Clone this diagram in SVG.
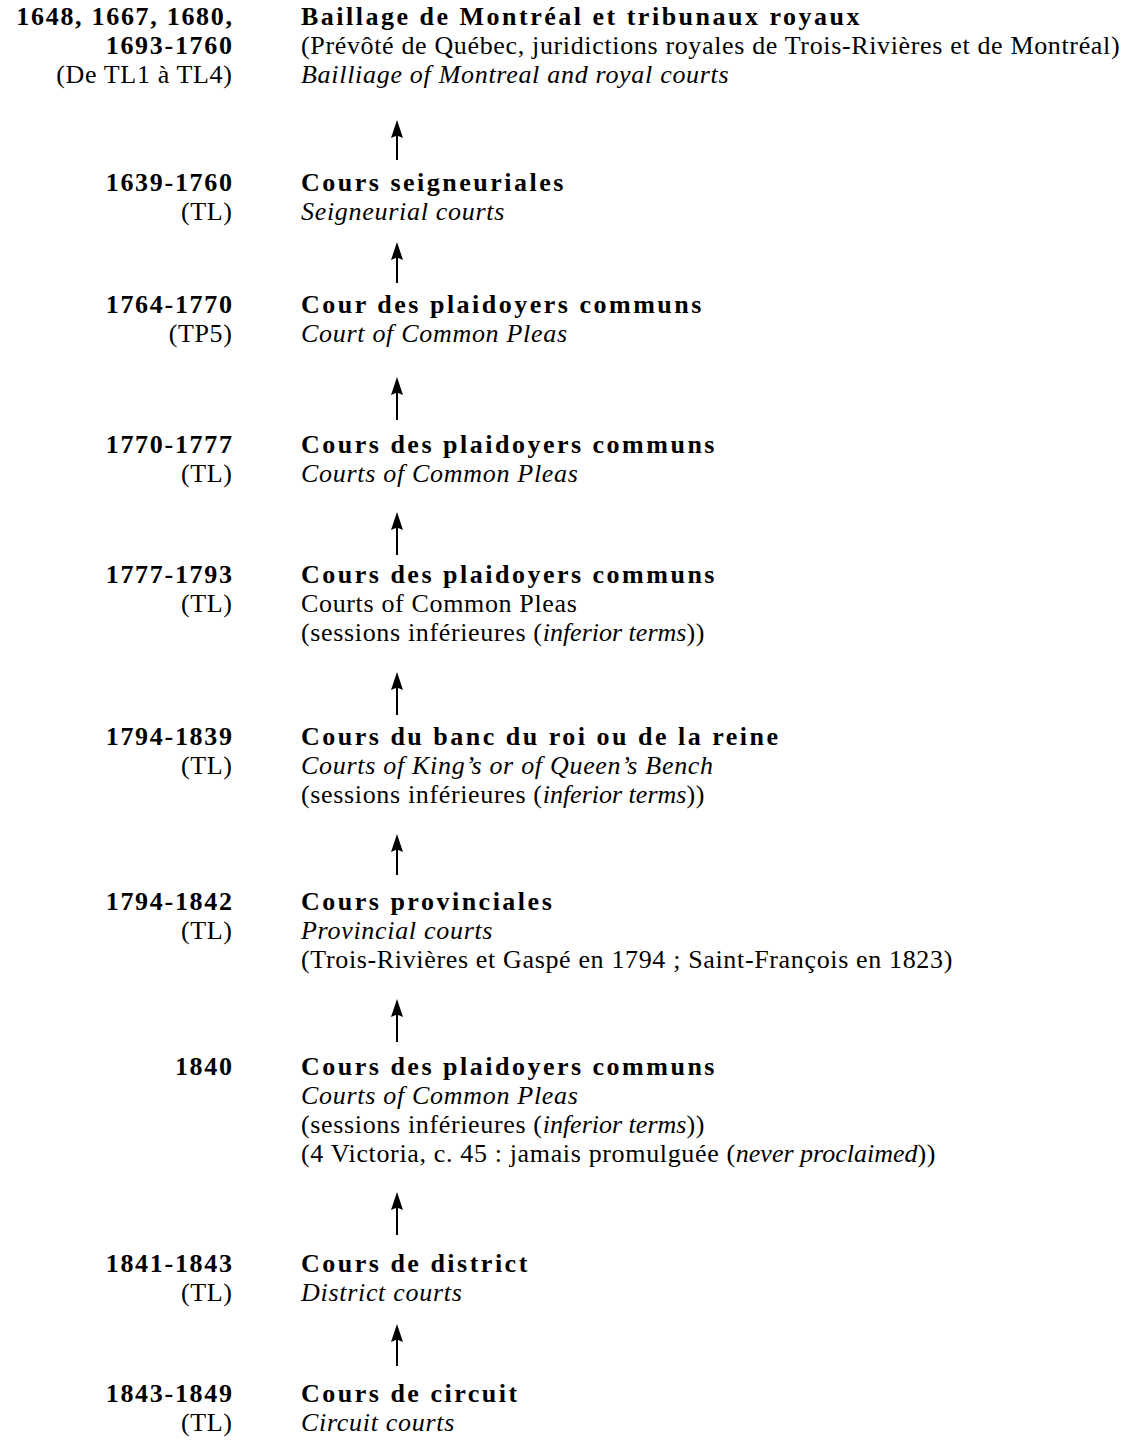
<svg xmlns="http://www.w3.org/2000/svg" width="1144" height="1440" viewBox="0 0 1144 1440">
<defs>
<style>
text{font-family:"Liberation Serif","Times New Roman",serif;font-size:26px;fill:#000}
.b{font-weight:bold;letter-spacing:2.5px}
.bd{font-weight:bold;letter-spacing:1.7px;text-anchor:end}
.r{letter-spacing:0.65px}
.i{font-style:italic;letter-spacing:0.7px}
.ii{font-style:italic;letter-spacing:0px}
.d{text-anchor:end}
.conn line{stroke:#000;stroke-width:2;fill:none}
</style>
<marker id="ah" viewBox="0 0 18 12" refX="8" refY="6" markerWidth="18" markerHeight="12" markerUnits="userSpaceOnUse" orient="auto">
<path d="M0,0 L18,6 L0,12 L2.5,6 Z" fill="#000"/>
</marker>
</defs>
<rect width="1144" height="1440" fill="#fff"/>

<g id="node-baillage">
<text class="bd" x="233.7" y="25">1648, 1667, 1680,</text>
<text class="bd" x="233.7" y="54">1693-1760</text>
<text class="r d" x="232.6" y="83">(De TL1 à TL4)</text>
<text class="b" x="301" y="25">Baillage de Montréal et tribunaux royaux</text>
<text class="r" x="301" y="54">(Prévôté de Québec, juridictions royales de Trois-Rivières et de Montréal)</text>
<text class="i" x="301" y="83">Bailliage of Montreal and royal courts</text>
</g>

<g id="node-seigneuriales">
<text class="bd" x="233.7" y="191">1639-1760</text>
<text class="r d" x="232.6" y="220">(TL)</text>
<text class="b" x="301" y="191">Cours seigneuriales</text>
<text class="i" x="301" y="220">Seigneurial courts</text>
</g>

<g id="node-plaidoyers-1764">
<text class="bd" x="233.7" y="313">1764-1770</text>
<text class="r d" x="232.6" y="342">(TP5)</text>
<text class="b" x="301" y="313">Cour des plaidoyers communs</text>
<text class="i" x="301" y="342">Court of Common Pleas</text>
</g>

<g id="node-plaidoyers-1770">
<text class="bd" x="233.7" y="453">1770-1777</text>
<text class="r d" x="232.6" y="482">(TL)</text>
<text class="b" x="301" y="453">Cours des plaidoyers communs</text>
<text class="i" x="301" y="482">Courts of Common Pleas</text>
</g>

<g id="node-plaidoyers-1777">
<text class="bd" x="233.7" y="583">1777-1793</text>
<text class="r d" x="232.6" y="612">(TL)</text>
<text class="b" x="301" y="583">Cours des plaidoyers communs</text>
<text class="r" x="301" y="612">Courts of Common Pleas</text>
<text class="r" x="301" y="641">(sessions inférieures (<tspan class="ii">inferior terms</tspan>))</text>
</g>

<g id="node-banc">
<text class="bd" x="233.7" y="745">1794-1839</text>
<text class="r d" x="232.6" y="774">(TL)</text>
<text class="b" x="301" y="745">Cours du banc du roi ou de la reine</text>
<text class="i" x="301" y="774">Courts of King’s or of Queen’s Bench</text>
<text class="r" x="301" y="803">(sessions inférieures (<tspan class="ii">inferior terms</tspan>))</text>
</g>

<g id="node-provinciales">
<text class="bd" x="233.7" y="910">1794-1842</text>
<text class="r d" x="232.6" y="939">(TL)</text>
<text class="b" x="301" y="910">Cours provinciales</text>
<text class="i" x="301" y="939">Provincial courts</text>
<text class="r" x="301" y="968">(Trois-Rivières et Gaspé en 1794 ; Saint-François en 1823)</text>
</g>

<g id="node-plaidoyers-1840">
<text class="bd" x="233.7" y="1075">1840</text>
<text class="b" x="301" y="1075">Cours des plaidoyers communs</text>
<text class="i" x="301" y="1104">Courts of Common Pleas</text>
<text class="r" x="301" y="1133">(sessions inférieures (<tspan class="ii">inferior terms</tspan>))</text>
<text class="r" x="301" y="1162">(4 Victoria, c. 45 : jamais promulguée (<tspan class="ii">never proclaimed</tspan>))</text>
</g>

<g id="node-district">
<text class="bd" x="233.7" y="1272">1841-1843</text>
<text class="r d" x="232.6" y="1301">(TL)</text>
<text class="b" x="301" y="1272">Cours de district</text>
<text class="i" x="301" y="1301">District courts</text>
</g>

<g id="node-circuit">
<text class="bd" x="233.7" y="1402">1843-1849</text>
<text class="r d" x="232.6" y="1431">(TL)</text>
<text class="b" x="301" y="1402">Cours de circuit</text>
<text class="i" x="301" y="1431">Circuit courts</text>
</g>

<g id="connectors" class="conn">
<line x1="397" y1="160" x2="397" y2="130" marker-end="url(#ah)"/>
<line x1="397" y1="283" x2="397" y2="252" marker-end="url(#ah)"/>
<line x1="397" y1="420" x2="397" y2="387" marker-end="url(#ah)"/>
<line x1="397" y1="555" x2="397" y2="522" marker-end="url(#ah)"/>
<line x1="397" y1="715" x2="397" y2="682" marker-end="url(#ah)"/>
<line x1="397" y1="875" x2="397" y2="844" marker-end="url(#ah)"/>
<line x1="397" y1="1042" x2="397" y2="1009" marker-end="url(#ah)"/>
<line x1="397" y1="1235" x2="397" y2="1202" marker-end="url(#ah)"/>
<line x1="397" y1="1366" x2="397" y2="1334" marker-end="url(#ah)"/>
</g>
</svg>
